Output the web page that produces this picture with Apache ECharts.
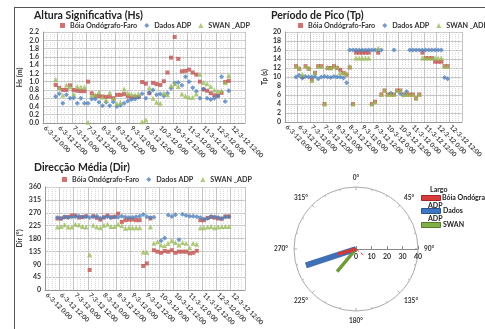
<!DOCTYPE html>
<html>
<head>
<meta charset="utf-8">
<script src="https://cdn.jsdelivr.net/npm/echarts@6/dist/echarts.min.js"></script>
<style>
  html, body { margin: 0; padding: 0; background: #fff; }
  #main { width: 485px; height: 329px; }
</style>
</head>
<body>
<div id="main"></div>
<script>
// samples every 3 h, 6-3-12 0:00 .. 12-3-12 21:00
const days = ['6-3-12', '7-3-12', '8-3-12', '9-3-12', '10-3-12', '11-3-12', '12-3-12'];
const hours = ['0:00', '3:00', '6:00', '9:00', '12:00', '15:00', '18:00', '21:00'];
const firstIdx = 3; // first sample is 6-3-12 9:00

const seriesNames = ['Bóia Ondógrafo-Faro', 'Dados ADP', 'SWAN _ADP'];

// Altura significativa (m)
const hsBoia = [.92,.85,.80,.80,.91,.80,.78,.77,.77,1.00,
  .72,.65,.65,.64,.63,.64,.60,.68,.68,.70,.65,.62,.63,
  .63,.99,.95,.72,.97,.94,.92,1.01,
  1.22,1.58,2.08,1.55,1.25,1.26,1.29,1.22,1.17,1.00,.81,.78,.72,.67,.66,.73,.99,1.02];
const hsAdp = [.64,.71,.48,.68,.60,.61,.48,.60,.48,.48,
  .58,.58,.50,.42,.50,.42,.51,.40,.43,.48,.53,.57,.58,
  .62,.71,.60,.73,.80,.68,.70,.65,
  .72,.84,.97,.98,.91,1.12,1.00,.85,.77,.60,.82,.60,.57,.60,.65,1.12,.52,.78];
const hsSwan = [1.05,.85,.67,.92,.87,.70,.88,.87,.87,.02,
  .67,.68,.75,.63,.55,.73,.60,.47,.50,.82,.72,.70,.68,
  .70,.03,.07,.85,.60,.50,.48,.72,
  .68,.90,.95,.88,.70,.65,.62,.62,.70,1.18,.98,.95,.88,.80,.77,.78,.98,1.15];

// Periodo de pico (s)
const tpBoia = [12.4,11.8,10.0,12.4,11.8,9.4,10.9,12.4,12.4,4.0,12.0,12.0,12.4,12.0,11.6,10.9,10.5,12.1,
  4.0,15.4,15.4,15.4,15.4,15.4,4.0,4.5,15.4,
  6.1,7.0,6.1,6.1,6.1,7.0,7.0,6.1,6.1,6.1,6.1,5.3,6.1,
  15.4,14.2,14.2,14.2,13.4,13.4,13.4,12.4,12.4];
const tpAdp = [10.0,10.4,9.8,10.1,10.0,10.0,10.1,9.6,10.0,10.1,10.0,9.9,10.1,10.0,10.0,9.8,8.7,
  16,16,16,16,16,16,16,16,16,16,16,
  null,null,6.4,16,null,6.4,6.0,6.8,
  16,16,16,16,16,16,16,16,16,16,16,
  9.9,9.6];
const tpSwan = [12.4,12.0,10.6,12.4,12.0,9.2,11.0,12.4,12.4,4.0,12.2,12.0,12.4,12.2,11.0,10.9,10.8,12.4,
  4.0,14.2,14.2,14.2,14.2,14.2,4.0,4.5,16.4,
  6.1,7.0,6.1,6.1,6.1,7.0,7.0,6.1,6.1,6.1,6.1,5.3,6.1,
  14.2,14.2,14.2,14.2,14.2,14.2,14.2,12.4,12.4];

// Direccao media (graus)
const dirBoia = [250,250,255,255,260,260,253,255,258,70,
  258,252,246,254,260,254,256,267,238,244,246,246,244,
  244,84,93,250,
  139,134,130,136,134,139,130,134,134,134,128,130,137,
  244,244,252,255,253,250,249,257,257];
const dirAdp = [253,250,255,253,255,256,258,255,256,253,256,258,252,253,256,253,255,254,258,255,253,254,256,258,
  264,256,253,254,
  null,172,182,262,257,263,176,265,260,258,258,256,
  253,248,250,257,255,253,250,255,256];
const dirSwan = [220,222,228,220,220,230,228,222,220,123,
  226,220,218,226,230,222,222,230,225,216,218,218,218,
  218,133,132,220,
  163,169,157,155,163,172,166,157,166,163,148,163,160,
  218,218,220,222,218,220,222,222,222];

// vectores medios (rosa)
const vecNames = ['Dados ADP', 'SWAN', 'Bóia Ondógrafo', 'Bóia Ondógrafo (2)'];
const vecDir = [252, 220, 254, 129];
const vecMag = [34, 19, 12, 6];

const categories = [];
days.forEach(d => hours.forEach(h => categories.push(d + ' ' + h)));

function place(arr) {
  const out = categories.map(() => null);
  arr.forEach((v, i) => { out[firstIdx + i] = v; });
  return out;
}

const colors = ['#C0504D', '#4F81BD', '#9BBB59'];
const symbols = ['rect', 'diamond', 'triangle'];
const sizes = [4, 5, 5];
const font = 'Lato, "Liberation Sans", sans-serif';

const grids = [
  { left: 43, top: 32, width: 202, height: 91 },
  { left: 285, top: 32, width: 197, height: 90 },
  { left: 45, top: 187, width: 200, height: 103 }
];

const xAxes = [];
const yAxes = [];
grids.forEach((g, i) => {
  xAxes.push({
    type: 'category', gridIndex: i, data: categories, boundaryGap: true,
    axisLine: { lineStyle: { color: '#999' } },
    axisTick: { show: false },
    axisLabel: { interval: 3, rotate: -45, fontSize: 6.5, fontWeight: 'bold', color: '#444', margin: 4, fontFamily: font },
    splitLine: { show: true, interval: 0, lineStyle: { color: '#dcdcdc', type: 'dotted' } }
  });
  xAxes.push({
    type: 'category', gridIndex: i, data: categories, boundaryGap: true, position: 'top',
    axisLine: { show: false }, axisTick: { show: false }, axisLabel: { show: false },
    splitLine: { show: true, interval: 3, lineStyle: { color: '#c4c4c4' } }
  });
});
const yName = { nameLocation: 'middle', nameRotate: 90,
  nameTextStyle: { fontSize: 7, fontWeight: 'bold', color: '#333', fontFamily: font } };
const yCommon = {
  type: 'value', min: 0,
  axisLine: { show: true, lineStyle: { color: '#999' } },
  axisTick: { show: false },
  splitLine: { lineStyle: { color: '#c8c8c8' } }
};
yAxes.push(Object.assign({}, yCommon, yName, { gridIndex: 0, max: 2.2, interval: 0.2, name: 'Hs (m)', nameGap: 20,
  axisLabel: { fontSize: 7, fontWeight: 'bold', color: '#333', margin: 4, fontFamily: font, formatter: v => v.toFixed(1) } }));
yAxes.push(Object.assign({}, yCommon, yName, { gridIndex: 1, max: 20, interval: 2, name: 'Tp (s)', nameGap: 17,
  axisLabel: { fontSize: 7, fontWeight: 'bold', color: '#333', margin: 4, fontFamily: font } }));
yAxes.push(Object.assign({}, yCommon, yName, { gridIndex: 2, max: 360, interval: 45, name: 'Dir (°)', nameGap: 22,
  axisLabel: { fontSize: 7, fontWeight: 'bold', color: '#333', margin: 4, fontFamily: font } }));

const panelData = [[hsBoia, hsAdp, hsSwan], [tpBoia, tpAdp, tpSwan], [dirBoia, dirAdp, dirSwan]];
const series = [];
panelData.forEach((set, p) => {
  set.forEach((arr, s) => {
    series.push({
      name: seriesNames[s], type: 'scatter', xAxisIndex: p * 2, yAxisIndex: p,
      data: place(arr), symbol: symbols[s], symbolSize: sizes[s],
      itemStyle: { color: colors[s] }, silent: true
    });
  });
});

// rose vectors
const vecColors = ['#3F6FB5', '#6E9A3A', '#D03A3A', '#D03A3A'];
const vecWidths = [6, 3.5, 3.5, 1];
vecNames.forEach((n, i) => {
  series.push({
    name: n, type: 'line', coordinateSystem: 'polar', symbol: 'none', silent: true,
    data: [[0, vecDir[i]], [vecMag[i], vecDir[i]]],
    lineStyle: { color: vecColors[i], width: vecWidths[i], type: i === 3 ? 'dashed' : 'solid', cap: 'butt' },
    z: 3 + i
  });
});

const legendText = { fontSize: 7.2, fontWeight: 'bold', color: '#333', fontFamily: font };
const legendItems = seriesNames.map((n, i) => ({ name: n, icon: symbols[i] }));
const legends = [
  { left: 60, top: 22 },
  { left: 298, top: 22 },
  { left: 62, top: 176 }
].map(pos => Object.assign({ data: legendItems, itemWidth: 5, itemHeight: 5, itemGap: 7, width: 320,
  textStyle: legendText, padding: 0, selectedMode: false }, pos));

const titleStyle = { fontSize: 10.5, fontWeight: 'bold', color: '#222', fontFamily: font };
const titles = [
  { text: 'Altura Significativa (Hs)', left: 34, top: 10 },
  { text: 'Período de Pico (Tp)', left: 271, top: 10 },
  { text: 'Direcção Média (Dir)', left: 34, top: 162 }
].map(t => Object.assign({ textStyle: titleStyle, padding: 0 }, t));

const legText = (x, y, s, bold) => ({ type: 'text', left: x, top: y,
  style: { text: s, fontSize: 7, fontWeight: bold ? 'bold' : 'normal', fill: '#222', fontFamily: font } });
const legRect = (x, y, fill, stroke) => ({ type: 'rect', left: x, top: y,
  shape: { width: 19, height: 5 }, style: { fill: fill, stroke: stroke, lineWidth: 1 } });

const option = {
  animation: false,
  backgroundColor: '#fff',
  textStyle: { fontFamily: font },
  title: titles,
  legend: legends,
  grid: grids,
  xAxis: xAxes,
  yAxis: yAxes,
  polar: { center: [356, 249], radius: 62 },
  angleAxis: {
    type: 'value', min: 90, max: 450, interval: 45, startAngle: 0, clockwise: true,
    axisLine: { lineStyle: { color: '#aaa' } },
    axisTick: { show: true, inside: true, length: 3, lineStyle: { color: '#aaa' } },
    minorTick: { show: true, splitNumber: 3, length: 2, lineStyle: { color: '#bbb' } },
    splitLine: { show: false },
    axisLabel: { fontSize: 6.5, fontWeight: 'bold', color: '#333', margin: 6, fontFamily: font,
      formatter: v => v >= 450 ? '' : (v % 360) + '°' }
  },
  radiusAxis: {
    type: 'value', min: 0, max: 40, interval: 10,
    axisLine: { lineStyle: { color: '#888' } },
    axisTick: { show: true, inside: true, length: 3, lineStyle: { color: '#888' } },
    axisLabel: { fontSize: 7, fontWeight: 'bold', color: '#333', fontFamily: font, margin: -11 },
    splitLine: { show: false }
  },
  graphic: [
    { type: 'line', shape: { x1: 14, y1: 7.5, x2: 485, y2: 7.5 }, style: { stroke: '#555', lineWidth: 1 } },
    { type: 'line', shape: { x1: 14.5, y1: 7, x2: 14.5, y2: 329 }, style: { stroke: '#555', lineWidth: 1 } },
    legText(430, 186, 'Largo', true),
    legRect(421, 195, '#D83A3A', '#A02828'),
    legText(442, 194, 'Bóia Ondógrafo', true),
    legText(428, 202, 'ADP', true),
    legRect(421, 208, '#3F76C4', '#2A5490'),
    legText(443, 207, 'Dados', true),
    legText(428, 215, 'ADP', true),
    legRect(421, 222, '#7FB04A', '#557A2C'),
    legText(443, 221, 'SWAN', true)
  ],
  series: series
};

const chart = echarts.init(document.getElementById('main'), null, { renderer: 'canvas' });
chart.setOption(option);
</script>
</body>
</html>
